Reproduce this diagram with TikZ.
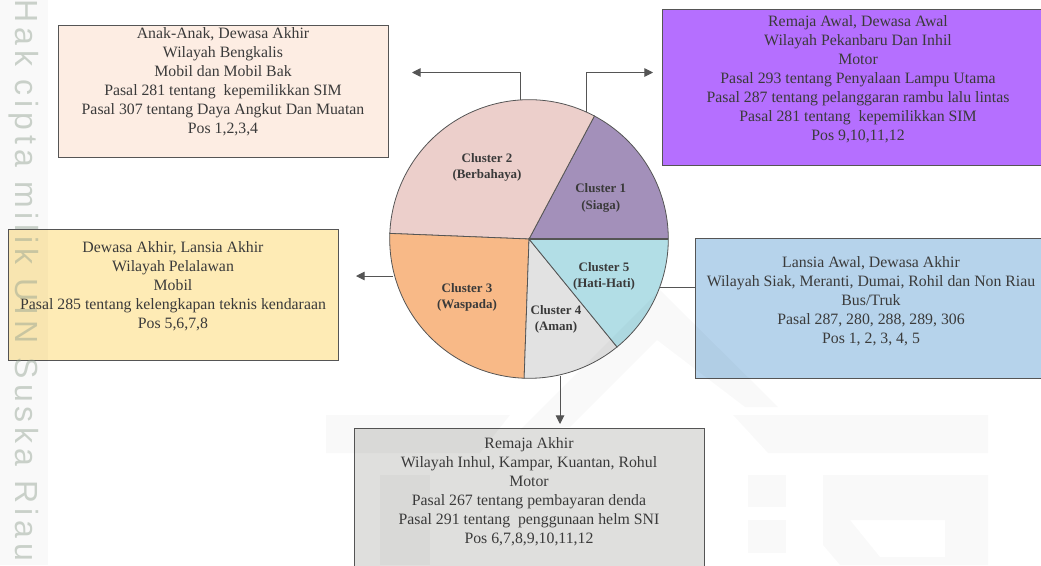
\documentclass[tikz,border=0pt]{standalone}
\usepackage{fontspec}
\setmainfont{Liberation Serif}
\newfontfamily\wmfont[LetterSpace=15.5]{Liberation Sans}
\usetikzlibrary{arrows.meta}
\definecolor{txt}{HTML}{3A3A3A}
\definecolor{edge}{HTML}{555555}
\definecolor{boxA}{HTML}{FDEDE3}
\definecolor{boxB}{HTML}{B56FFF}
\definecolor{boxC}{HTML}{FEEBB5}
\definecolor{boxD}{HTML}{B6D3EB}
\definecolor{boxE}{HTML}{DFDFDD}
\definecolor{sliceA}{HTML}{A390BA}
\definecolor{sliceB}{HTML}{ECCFCB}
\definecolor{sliceC}{HTML}{F8B987}
\definecolor{sliceD}{HTML}{E2E2E2}
\definecolor{sliceE}{HTML}{B2DEE6}
\definecolor{wmtext}{HTML}{8FA08F}
\tikzset{
  infobox/.style={draw=edge,line width=0.7pt,anchor=north west,inner sep=0pt,outer sep=0pt},
  infotext/.style={align=center,text=txt,font=\fontsize{11.85}{14.2}\selectfont,inner sep=0pt},
  slice/.style={draw=edge,line width=0.6pt},
  slicelabel/.style={align=center,text=txt,font=\fontsize{9.7}{12.2}\selectfont\bfseries,inner sep=0pt},
  link/.style={draw=edge,line width=0.7pt},
  arrowlink/.style={link,-{Triangle[length=6.5pt,width=6.5pt]}},
  wmshape/.style={fill=black,fill opacity=0.022,draw=none},
}
\begin{document}
\begin{tikzpicture}[x=0.75pt,y=-0.75pt]
\useasboundingbox (0,0) rectangle (1041,565);
\fill[white] (0,0) rectangle (1041,565);
% boxes
\node[infobox,fill=boxA,minimum width=247.5pt,minimum height=99pt] (ba) at (58,25) {};
\node[infobox,fill=boxB,minimum width=284.25pt,minimum height=117pt] (bb) at (662,9) {};
\node[infobox,fill=boxC,minimum width=247.5pt,minimum height=98.25pt] (bc) at (8,229) {};
\node[infobox,fill=boxD,minimum width=259.5pt,minimum height=105pt] (bd) at (695,238) {};
\node[infobox,fill=boxE,minimum width=262.5pt,minimum height=110pt] (be) at (354,428.7) {};
% box texts
\node[infotext] (ta) at (223,81.5) {Anak-Anak, Dewasa Akhir\\Wilayah Bengkalis\\Mobil dan Mobil Bak\\Pasal 281 tentang\ \ kepemilikkan SIM\\Pasal 307 tentang Daya Angkut Dan Muatan\\Pos 1,2,3,4};
\node[infotext] (tb) at (858,79) {Remaja Awal, Dewasa Awal\\Wilayah Pekanbaru Dan Inhil\\Motor\\Pasal 293 tentang Penyalaan Lampu Utama\\Pasal 287 tentang pelanggaran rambu lalu lintas\\Pasal 281 tentang\ \ kepemilikkan SIM\\Pos 9,10,11,12};
\node[infotext] (tc) at (173,286.5) {Dewasa Akhir, Lansia Akhir\\Wilayah Pelalawan\\Mobil\\Pasal 285 tentang kelengkapan teknis kendaraan\\Pos 5,6,7,8};
\node[infotext] (td) at (871,301) {Lansia Awal, Dewasa Akhir\\Wilayah Siak, Meranti, Dumai, Rohil dan Non Riau\\Bus/Truk\\Pasal 287, 280, 288, 289, 306\\Pos 1, 2, 3, 4, 5};
\node[infotext] (te) at (529,491.5) {Remaja Akhir\\Wilayah Inhul, Kampar, Kuantan, Rohul\\Motor\\Pasal 267 tentang pembayaran denda\\Pasal 291 tentang\ \ penggunaan helm SNI\\Pos 6,7,8,9,10,11,12};
% pie
\coordinate (pie) at (529,239);
\def\pr{139.3}
\draw[slice,fill=sliceA] (pie) -- ++(0:\pr) coordinate (e0) arc[start angle=0,delta angle=-62,radius=\pr] coordinate (e1) -- cycle;
\draw[slice,fill=sliceB] (pie) -- (e1) arc[start angle=-62,delta angle=-115.7,radius=\pr] coordinate (e2) -- cycle;
\draw[slice,fill=sliceC] (pie) -- (e2) arc[start angle=-177.7,delta angle=-90.3,radius=\pr] coordinate (e3) -- cycle;
\draw[slice,fill=sliceD] (pie) -- (e3) arc[start angle=-268,delta angle=-41.2,radius=\pr] coordinate (e4) -- cycle;
\draw[slice,fill=sliceE] (pie) -- (e4) arc[start angle=-309.2,delta angle=-50.8,radius=\pr] -- cycle;
\draw[slice,line width=1pt] (pie) -- (e0);
% slice labels
\node[slicelabel] (l1) at (600.7,198) {Cluster 1\\(Siaga)};
\node[slicelabel] (l2) at (487,167.5) {Cluster 2\\(Berbahaya)};
\node[slicelabel] (l3) at (467,297.5) {Cluster 3\\(Waspada)};
\node[slicelabel] (l4) at (556,319.5) {Cluster 4\\(Aman)};
\node[slicelabel] (l5) at (604,276.5) {Cluster 5\\(Hati-Hati)};
% connectors
\coordinate (o1) at (586.7,111.5);
\coordinate (o2) at (520,100);
\coordinate (o3) at (393,276);
\coordinate (o4) at (560,375.5);
\coordinate (o5) at (660,287);
\coordinate (a1) at (653,72.5);
\coordinate (a2) at (412,72.5);
\coordinate (a3) at (356,276);
\coordinate (a4) at (560,424);
\draw[arrowlink] (o1) |- (a1);
\draw[arrowlink] (o2) |- (a2);
\draw[arrowlink] (o3) -- (a3);
\draw[arrowlink] (o4) -- (a4);
\draw[link] (o5) -- (bd.west |- o5);
% faint watermark
\fill[wmshape] (0,0) rectangle (48,565);
\fill[wmshape] (660,290) -- (778,407) -- (745,407) -- (657,340) -- (570,427) -- (520,430) -- cycle;
\fill[wmshape] (733,415) -- (988,415) -- (988,453) -- (768,453) -- cycle;
\fill[wmshape] (326,415) -- (510,415) -- (480,453) -- (326,453) -- cycle;
\fill[wmshape] (748,475) rectangle (786,507);
\fill[wmshape] (748,520) rectangle (786,553);
\fill[wmshape,even odd rule] (823,475) -- (988,475) -- (988,565) -- (840,565) -- (823,545) -- cycle (850,520) -- (945,520) -- (945,557) -- (880,557) -- cycle;
\fill[wmshape] (380,475) rectangle (430,565);
\node[anchor=base west,rotate=-90,inner sep=0pt,text=wmtext,text opacity=0.45,font=\wmfont\fontsize{24}{24}\selectfont] (wm) at (15.5,-1) {Hak cipta milik UIN Suska Riau};
\end{tikzpicture}
\end{document}
